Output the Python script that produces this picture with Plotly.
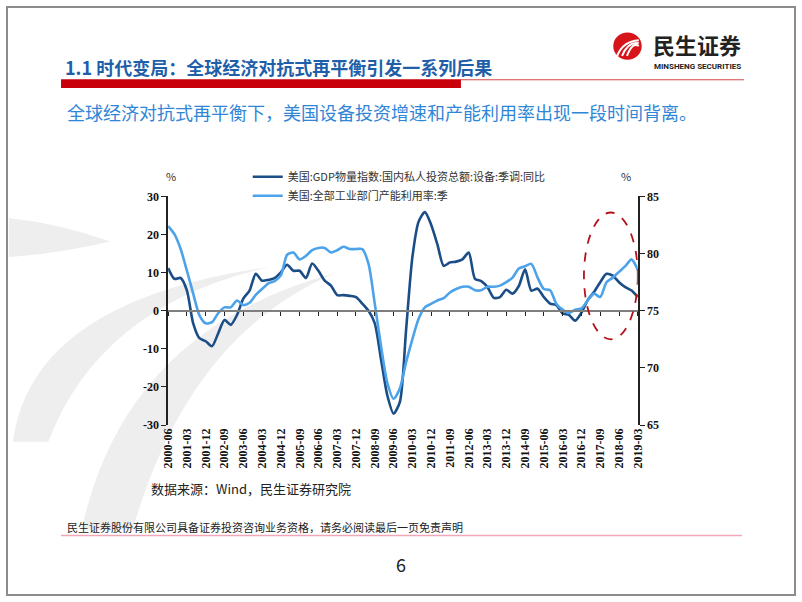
import plotly.graph_objects as go

W, H = 802, 602

# quarterly dates 2000-06 .. 2019-03
dates = ["%d-%02d" % (2000 + (q // 4), [3, 6, 9, 12][q % 4]) for q in range(1, 77)]

# 美国:GDP物量指数:国内私人投资总额:设备:季调:同比 (%)
equip_yoy = [11.2, 8.4, 8.6, 5.3, -3.3, -7.2, -8.0, -9.3, -5.9, -2.4,
             -3.7, -1.1, 3.2, 5.3, 9.7, 7.9, 8.1, 8.6, 10.1, 12.1,
             10.5, 10.5, 8.6, 12.4, 10.5, 7.9, 6.6, 4.1, 4.1, 3.9,
             3.6, 1.9, 0.0, -3.3, -12.8, -22.2, -27.0, -24.0, -5.0, 14.0,
             23.4, 25.9, 22.6, 17.4, 11.8, 12.7, 12.9, 13.5, 15.3, 8.4,
             7.8, 6.2, 3.4, 3.6, 5.5, 4.5, 6.5, 10.9, 5.3, 5.8,
             3.6, 1.9, 1.5, -0.7, -1.1, -2.6, -0.5, 2.8, 4.9, 7.5,
             9.7, 9.2, 7.5, 6.2, 5.3, 3.6]

# 美国:全部工业部门产能利用率:季 (%)
capacity = [82.4, 81.7, 80.4, 78.5, 76.5, 74.6, 73.9, 74.0, 74.8, 75.3,
            75.3, 75.9, 75.5, 75.7, 76.4, 76.9, 77.4, 77.6, 78.1, 79.9,
            80.1, 79.5, 79.8, 80.3, 80.5, 80.5, 80.1, 80.3, 80.6, 80.4,
            80.4, 80.4, 79.1, 75.6, 71.9, 68.7, 67.3, 68.2, 70.5, 72.5,
            74.3, 75.3, 75.6, 75.9, 76.1, 76.6, 76.9, 77.1, 77.1, 76.8,
            76.8, 77.1, 77.1, 77.2, 77.5, 77.9, 78.7, 78.9, 79.1, 77.9,
            76.9, 76.8, 75.6, 75.1, 74.8, 75.1, 75.2, 75.9, 76.5, 76.2,
            77.5, 77.9, 78.4, 78.9, 79.5, 78.6]

x_ticks = dates[::3]
left_ticks = [30, 20, 10, 0, -10, -20, -30]
left_labels = ["30", "20", "10", "0", "-10", "-20", "-30"]
right_ticks = [85, 80, 75, 70, 65]

name_dark = "美国:GDP物量指数:国内私人投资总额:设备:季调:同比"
name_light = "美国:全部工业部门产能利用率:季"


def px(x):
    return x / W


def py(y):
    return 1 - y / H


def qpath(pts):
    # closed path made of two quadratic curves, pts in page pixels
    p = [(px(a), py(b)) for a, b in pts]
    return "M %f %f Q %f %f %f %f Q %f %f %f %f Z" % (
        p[0] + p[1] + p[2] + p[3] + p[4])


CJK = "Noto Sans CJK SC"
SERIF = "Liberation Serif"

fig = go.Figure()
fig.add_trace(go.Scatter(x=dates, y=equip_yoy, name=name_dark, mode="lines",
                         line=dict(color="#1b4d86", width=2.6, shape="spline", smoothing=0.7)))
fig.add_trace(go.Scatter(x=dates, y=capacity, name=name_light, mode="lines", yaxis="y2",
                         line=dict(color="#4da3ea", width=2.6, shape="spline", smoothing=0.7)))
# dummy trace so the zero-line axis gets drawn
fig.add_trace(go.Scatter(x=[0, 75], y=[None, None], xaxis="x2", showlegend=False, hoverinfo="skip"))

xd = [px(164), px(642)]
yd = [py(428), py(194)]
zero_pos = yd[0] + (yd[1] - yd[0]) / 2

fig.update_layout(
    width=W, height=H,
    margin=dict(l=0, r=0, t=0, b=0),
    paper_bgcolor="white", plot_bgcolor="rgba(0,0,0,0)",
    showlegend=True,
    legend=dict(x=px(245), y=py(159), xanchor="left", yanchor="top",
                font=dict(family=CJK, size=11, color="#333333"),
                bgcolor="rgba(0,0,0,0)", itemwidth=30, tracegroupgap=0),
    xaxis=dict(type="category", domain=xd, range=[0, 75], tickvals=x_ticks,
               tickangle=-90, showline=False, ticks="", showgrid=False, zeroline=False,
               tickfont=dict(family=SERIF, size=12, color="#111111", weight="bold")),
    xaxis2=dict(overlaying="x", anchor="free", position=zero_pos, range=[0, 75],
                domain=xd, tickvals=list(range(0, 76, 3)), showticklabels=False,
                showline=True, linecolor="#7f7f7f", linewidth=2, ticks="outside",
                ticklen=4, tickwidth=1.2, tickcolor="#222222", showgrid=False, zeroline=False),
    yaxis=dict(domain=yd, range=[-30, 30], tickvals=left_ticks, ticktext=left_labels,
               showline=True, linecolor="#222222", linewidth=1.5, ticks="outside",
               ticklen=5, tickcolor="#222222", showgrid=False, zeroline=False,
               tickfont=dict(family=SERIF, size=12, color="#111111", weight="bold")),
    yaxis2=dict(overlaying="y", side="right", anchor="x", range=[65, 85], tickvals=right_ticks,
                showline=True, linecolor="#222222", linewidth=1.5, ticks="outside",
                ticklen=5, tickcolor="#222222", showgrid=False, zeroline=False,
                tickfont=dict(family=SERIF, size=12, color="#111111", weight="bold")),
)

shapes = []
# faint watermark swooshes
for pts in ([(2, 216), (55, 222), (105, 240), (55, 252), (2, 256)],
            [(6, 445), (25, 300), (268, 266), (95, 305), (42, 445)],
            [(76, 535), (120, 330), (335, 272), (185, 335), (128, 535)]):
    shapes.append(dict(type="path", xref="paper", yref="paper", layer="below",
                       path=qpath(pts), fillcolor="#eeeeee", line=dict(width=0)))
# page frame
shapes.append(dict(type="rect", xref="paper", yref="paper", x0=0, y0=0, x1=1, y1=1,
                   line=dict(color="#8c8c8c", width=2)))
# header bars
shapes.append(dict(type="rect", xref="paper", yref="paper", x0=px(55), x1=px(462),
                   y0=py(83), y1=py(74), fillcolor="#c8000a", line=dict(width=0)))
shapes.append(dict(type="line", xref="paper", yref="paper", x0=px(462), x1=px(750),
                   y0=py(74.5), y1=py(74.5), line=dict(color="#d64545", width=1)))
# footer line
shapes.append(dict(type="line", xref="paper", yref="paper", x0=px(55), x1=px(748),
                   y0=py(541), y1=py(541), line=dict(color="#f0a8b8", width=1.5)))
# logo circle
shapes.append(dict(type="circle", xref="paper", yref="paper", x0=px(617), x1=px(646),
                   y0=py(54), y1=py(26), fillcolor="#d7141a", line=dict(width=0)))
for k in range(3):
    shapes.append(dict(type="path", xref="paper", yref="paper",
                       path="M %f %f Q %f %f %f %f" % (
                           px(621 + 5 * k), py(50), px(627 + 5 * k), py(35), px(643), py(34 + 3 * k)),
                       line=dict(color="white", width=2)))
# dashed ellipse highlight
shapes.append(dict(type="circle", xref="x", yref="y", x0=66.4, x1=75.0, y0=-7.5, y1=25.8,
                   line=dict(color="#b3121b", width=1.8, dash="dash")))
fig.update_layout(shapes=shapes)

ann = [
    dict(x=px(57), y=py(61), text="<b>1.1 时代变局：全球经济对抗式再平衡引发一系列后果</b>",
         font=dict(family=CJK, size=18, color="#1f5faa")),
    dict(x=px(59), y=py(107), text="全球经济对抗式再平衡下，美国设备投资增速和产能利用率出现一段时间背离。",
         font=dict(family=CJK, size=18, color="#2f86d6")),
    dict(x=px(655), y=py(38), text="<b>民生证券</b>", font=dict(family=CJK, size=22, color="#222222")),
    dict(x=px(656), y=py(61), text="<b>MINSHENG SECURITIES</b>",
         font=dict(family="Roboto", size=8, color="#222222")),
    dict(x=px(160), y=py(173), text="%", font=dict(family=CJK, size=11, color="#333333")),
    dict(x=px(623), y=py(173), text="%", font=dict(family=CJK, size=11, color="#333333")),
    dict(x=px(145), y=py(493), text="数据来源：Wind，民生证券研究院",
         font=dict(family=CJK, size=13, color="#222222")),
    dict(x=px(59), y=py(532), text="民生证券股份有限公司具备证券投资咨询业务资格，请务必阅读最后一页免责声明",
         font=dict(family=CJK, size=11, color="#222222")),
    dict(x=px(394), y=py(570), text="6", font=dict(family=CJK, size=18, color="#222222")),
]
for a in ann:
    a.update(xref="paper", yref="paper", xanchor="left", yanchor="middle", showarrow=False)
fig.update_layout(annotations=ann)

fig.write_html("out.html", config={"displayModeBar": False},
               post_script="document.body.style.margin='0';document.body.style.overflow='hidden';")
